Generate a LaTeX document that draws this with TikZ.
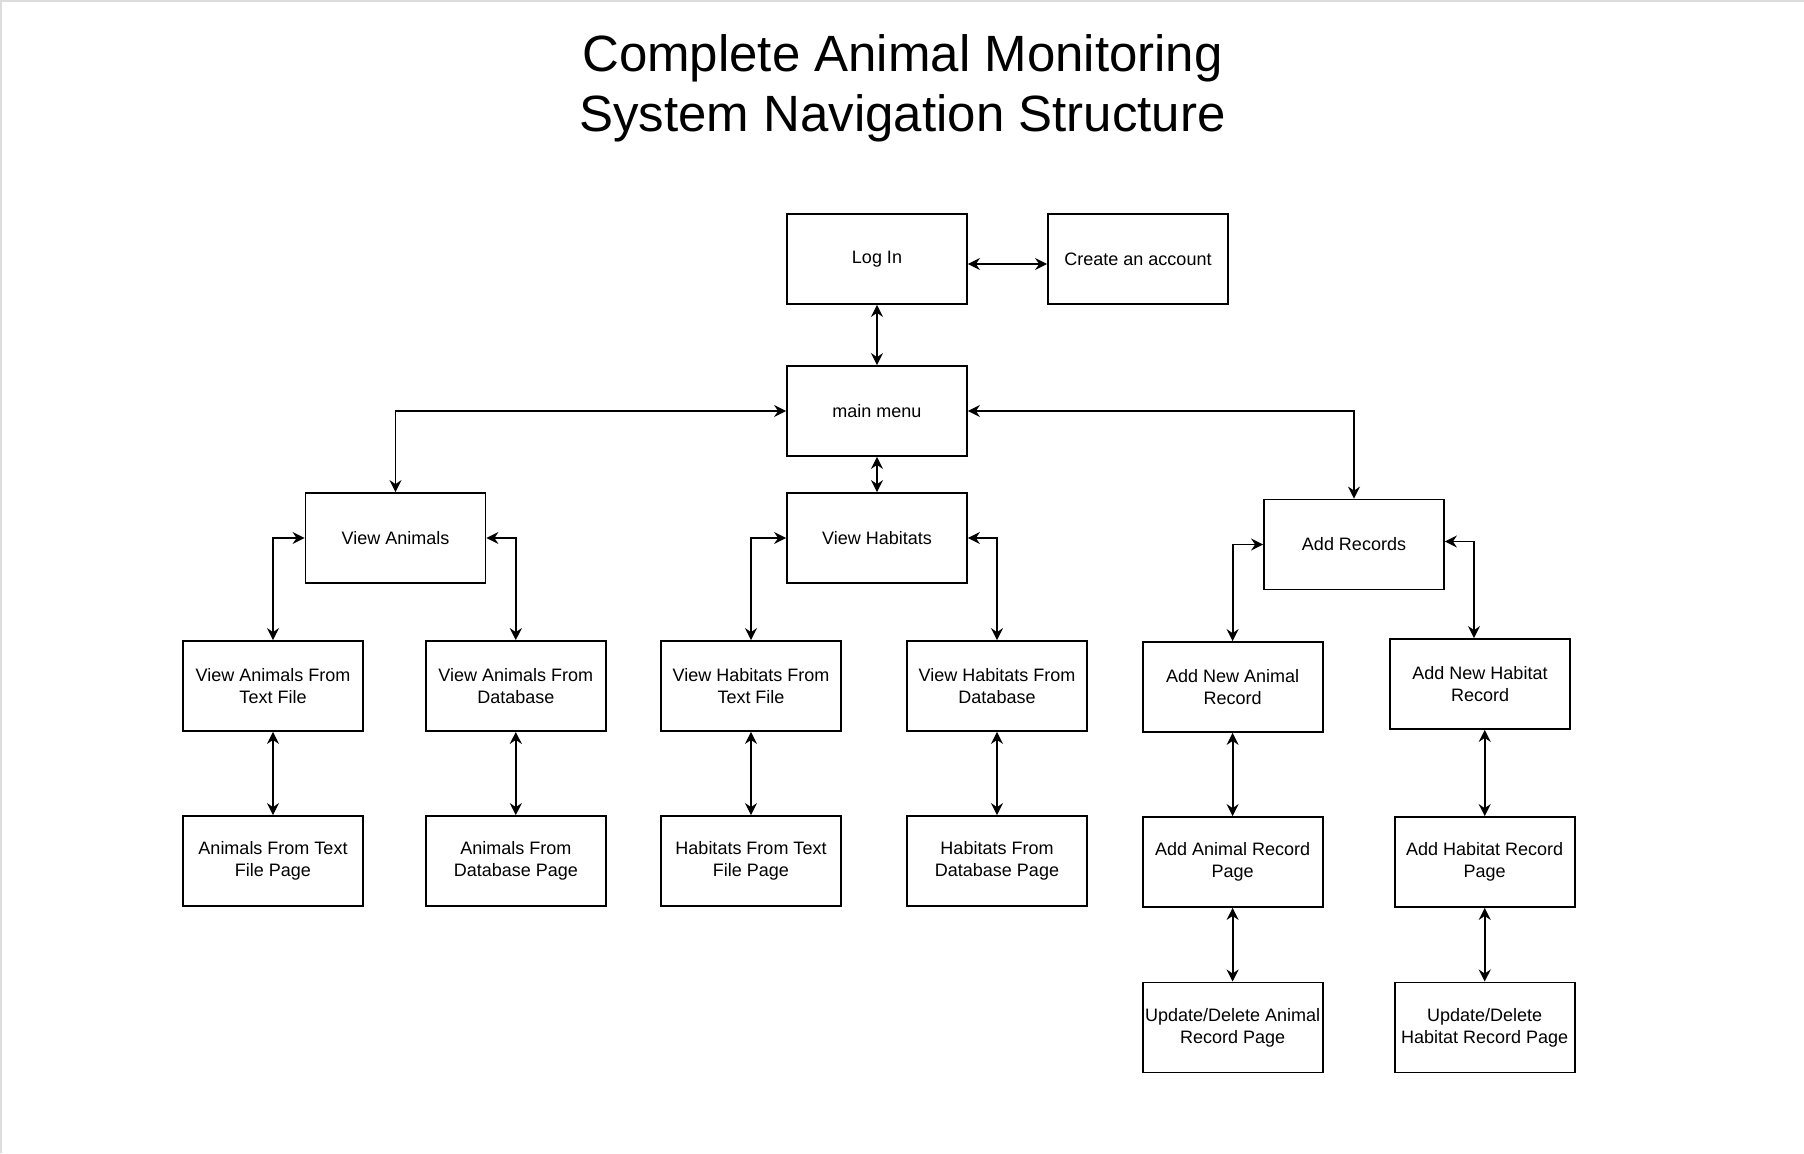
\documentclass[tikz,border=0pt]{standalone}
\usepackage{fontspec}
\setmainfont{Liberation Sans}
\usetikzlibrary{arrows.meta}
\definecolor{edgegray}{HTML}{DDDDDD}
\tikzset{
  box/.style={draw=black, line width=0.9pt, minimum width=90pt, minimum height=45pt,
    inner sep=0pt, align=center, font=\fontsize{9pt}{11pt}\selectfont, fill=white},
  link/.style={draw=black, line width=0.9pt,
    {Stealth[length=6pt,width=6pt,inset=2pt]}-{Stealth[length=6pt,width=6pt,inset=2pt]}},
  titletext/.style={align=center, font=\fontsize{25.5pt}{30pt}\selectfont}
}
\begin{document}
\begin{tikzpicture}[x=0.5pt,y=-0.5pt]
\useasboundingbox (0,0) rectangle (1804,1153);
\fill[white] (0,0) rectangle (1804,1153);
\draw[edgegray, line width=1pt] (1,1153) -- (1,1) -- (1804,1);

\node[titletext] (title) at (902.5,88.5) {Complete Animal Monitoring\\System Navigation Structure};

\node[box] (login) at (877,259) {Log In};
\node[box] (create) at (1138,259) {Create an account};
\node[box] (menu) at (877,411) {main menu};
\node[box] (va) at (395.5,538) {View Animals};
\node[box] (vh) at (877,538) {View Habitats};
\node[box] (ar) at (1354,544.5) {Add Records};

\node[box] (vat) at (273,686) {View Animals From\\Text File};
\node[box] (vad) at (515.8,686) {View Animals From\\Database};
\node[box] (vht) at (751,686) {View Habitats From\\Text File};
\node[box] (vhd) at (997,686) {View Habitats From\\Database};
\node[box] (ana) at (1232.6,687) {Add New Animal\\Record};
\node[box] (anh) at (1480,684) {Add New Habitat\\Record};

\node[box] (pat) at (273,861) {Animals From Text\\File Page};
\node[box] (pad) at (515.8,861) {Animals From\\Database Page};
\node[box] (pht) at (751,861) {Habitats From Text\\File Page};
\node[box] (phd) at (997,861) {Habitats From\\Database Page};
\node[box] (aarp) at (1232.6,862) {Add Animal Record\\Page};
\node[box] (ahrp) at (1484.7,862) {Add Habitat Record\\Page};

\node[box] (uda) at (1232.6,1027.4) {Update/Delete Animal\\Record Page};
\node[box] (udh) at (1484.7,1027.4) {Update/Delete\\Habitat Record Page};

\draw[link] ([yshift=-2.5pt]login.east) -- ([yshift=-2.5pt]create.west);
\draw[link] (login.south) -- (menu.north);
\draw[link] (menu.west) -| (va.north);
\draw[link] (menu.east) -| (ar.north);
\draw[link] (menu.south) -- (vh.north);

\draw[link] (va.west) -| (vat.north);
\draw[link] (va.east) -| (vad.north);
\draw[link] (vh.west) -| (vht.north);
\draw[link] (vh.east) -| (vhd.north);
\draw[link] (ar.west) -| (ana.north);
\draw[link] ([yshift=1.5pt]ar.east) -| ([xshift=-3pt]anh.north);

\draw[link] (vat.south) -- (pat.north);
\draw[link] (vad.south) -- (pad.north);
\draw[link] (vht.south) -- (pht.north);
\draw[link] (vhd.south) -- (phd.north);
\draw[link] (ana.south) -- (aarp.north);
\draw[link] (aarp.south) -- (uda.north);
\draw[link] (ahrp.north |- anh.south) -- (ahrp.north);
\draw[link] (ahrp.south) -- (udh.north);
\end{tikzpicture}
\end{document}
